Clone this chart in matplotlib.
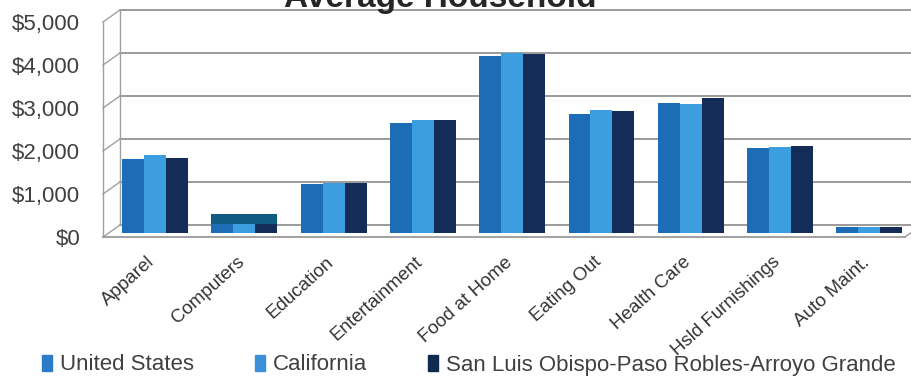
import numpy as np
import matplotlib.pyplot as plt
from matplotlib.patches import Rectangle
from matplotlib.transforms import ScaledTranslation

plt.rcParams['font.family'] = ['Liberation Sans', 'DejaVu Sans']

categories = ['Apparel', 'Computers', 'Education', 'Entertainment', 'Food at Home',
              'Eating Out', 'Health Care', 'Hsld Furnishings', 'Auto Maint.']
united_states = [1720, 440, 1150, 2550, 4110, 2760, 3030, 1980, 140]
california = [1820, 440, 1170, 2620, 4180, 2870, 2990, 2000, 130]
slo_county = [1750, 440, 1170, 2620, 4160, 2830, 3130, 2020, 140]
series_names = ['United States', 'California',
                'San Luis Obispo-Paso Robles-Arroyo Grande']
y_ticks = [0, 1000, 2000, 3000, 4000, 5000]
y_labels = ['$0', '$1,000', '$2,000', '$3,000', '$4,000', '$5,000']

colors = ['#1c6cb6', '#3c9edf', '#142d58']
legend_colors = ['#2a7bc8', '#3b8fd8', '#0f2b4f']
grid_col = '#8a8a8a'

W, H = 912, 379
fig = plt.figure(figsize=(W / 100, H / 100), dpi=100)
ax = fig.add_axes([103 / W, (H - 237) / H, (W - 103) / W, 215 / H])

x0 = -0.582
ax.set_xlim(x0, x0 + (W - 103) / 89.3)
ax.set_ylim(0, 5000)

# fake 3d box: back wall pushed up and to the right
dx, dy = 0.19, 279
x_right = 8.399
for v in y_ticks:
    ax.plot([x0 + dx, 9.0], [v + dy, v + dy], color=grid_col, lw=1.2,
            clip_on=False, zorder=1)
    ax.plot([x0, x0 + dx], [v, v + dy], color='#a0a0a0', lw=1.0,
            clip_on=False, zorder=1)
ax.plot([x0, x0], [0, 5000], color='#a0a0a0', lw=1.0, clip_on=False, zorder=1)
ax.plot([x0 + dx, x0 + dx], [dy, 5000 + dy], color='#a0a0a0', lw=1.0,
        clip_on=False, zorder=1)
ax.plot([x0, x_right], [0, 0], color='#9a9a9a', lw=1.3, clip_on=False, zorder=1)
ax.plot([x_right, x_right + dx], [0, dy], color='#9a9a9a', lw=1.0,
        clip_on=False, zorder=1)

# bars
x = np.arange(len(categories))
bw = 0.246
base = 93
for i, (vals, c) in enumerate(zip([united_states, california, slo_county], colors)):
    ax.bar(x + (i - 1) * bw, vals, bw, bottom=base, color=c, lw=0, zorder=3)

# dark band over the top half of the computers group
k = categories.index('Computers')
top = max(united_states[k], california[k], slo_county[k])
ax.add_patch(Rectangle((k - 1.5 * bw, base + top / 2), 3 * bw, top / 2,
                       color='#0f5b82', lw=0, zorder=4))

for s in ax.spines.values():
    s.set_visible(False)
ax.set_yticks(y_ticks)
ax.set_yticklabels(y_labels, fontsize=16, color='#404040')
ax.tick_params(axis='y', length=0, pad=16.5)
ax.set_xticks(x)
ax.set_xticklabels(categories, fontsize=13.5, color='#333333', rotation=42,
                   ha='right', va='top', rotation_mode='anchor')
ax.tick_params(axis='x', length=0, pad=12)
shift = ScaledTranslation(-8 / 100, 0, fig.dpi_scale_trans)
for lab in ax.get_xticklabels():
    lab.set_transform(lab.get_transform() + shift)

fig.text(440 / W, (H - 7) / H, 'Average Household', fontsize=24,
         fontweight='bold', color='#262626', ha='center', va='baseline')

handles = [Rectangle((0, 0), 1, 1, color=c) for c in legend_colors]
fig.legend(handles, series_names, loc='center', bbox_to_anchor=(469 / W, 14 / H),
           ncol=3, frameon=False, fontsize=16, handlelength=0.45, handleheight=0.75,
           handletextpad=0.35, columnspacing=2.75, labelcolor='#404040')

fig.savefig('out.png', dpi=100, facecolor='white')
